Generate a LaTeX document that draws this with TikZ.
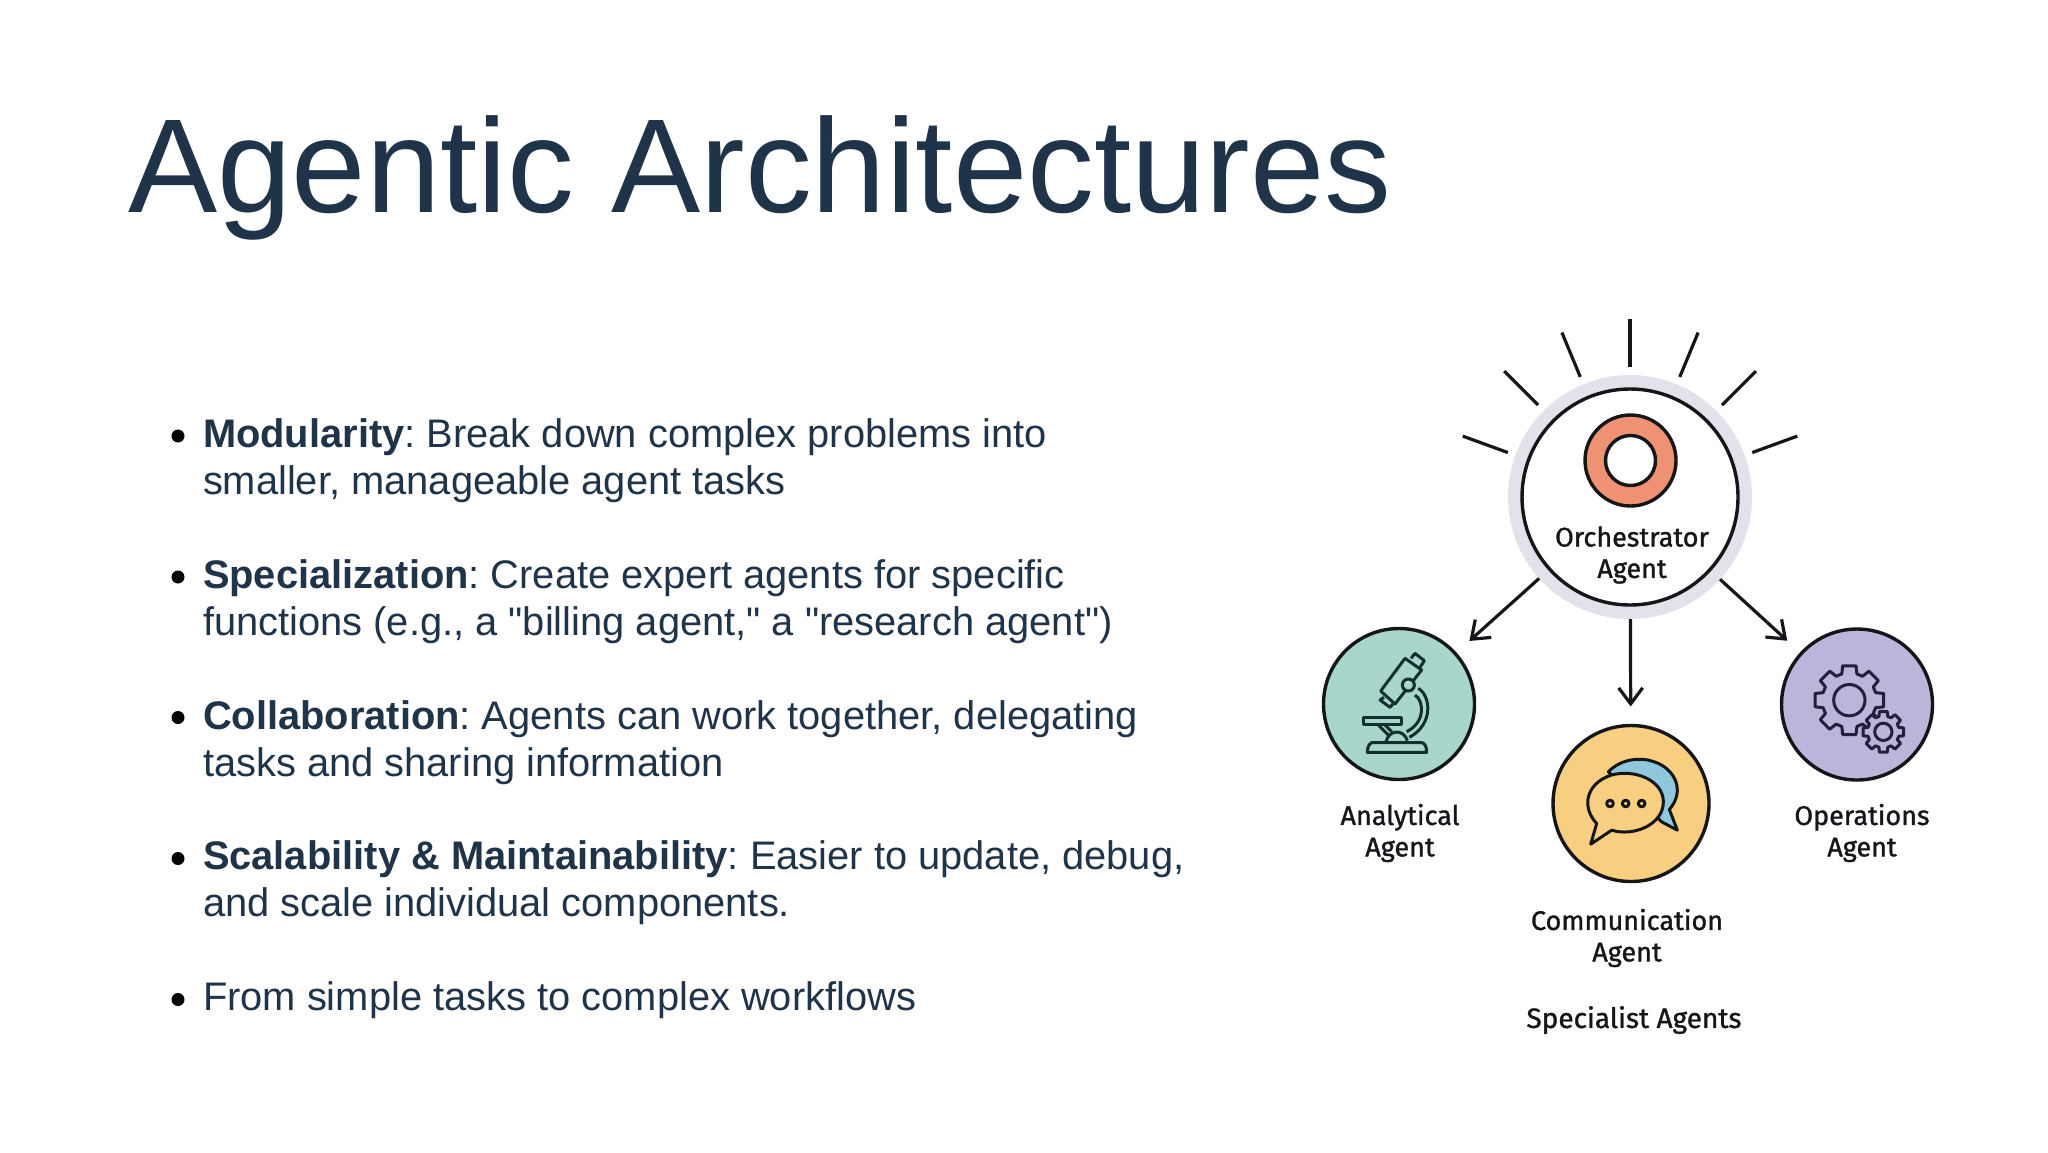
\documentclass[tikz,border=0pt]{standalone}
\usepackage{fontspec}
\usepackage{xcolor}
\newfontfamily\slidefont{Liberation Sans}
\newfontfamily\iconfont{Fira Sans}[FakeBold=1.2]
\usetikzlibrary{arrows.meta,positioning}

\definecolor{slidetext}{HTML}{1F3349}
\definecolor{ringgray}{HTML}{E2E2EA}
\definecolor{donutorange}{HTML}{EF9273}
\definecolor{tealfill}{HTML}{A9D6CA}
\definecolor{lilacfill}{HTML}{BDB5D9}
\definecolor{sandfill}{HTML}{F8CF80}
\definecolor{bubbleblue}{HTML}{8FC7DC}
\definecolor{inkblack}{HTML}{14161A}
\definecolor{inkteal}{HTML}{12302F}
\definecolor{inkplum}{HTML}{231F3F}

\tikzset{
    bullet/.style={circle, fill=black, minimum size=6.5pt, inner sep=0pt, outer sep=0pt},
    item/.style={anchor=north west, align=left, inner sep=0pt, outer sep=0pt, text=slidetext,
        font=\slidefont\frenchspacing\fontsize{19.93pt}{23.4pt}\selectfont,
        execute at begin node={\rule{0pt}{15pt}}},
    agent/.style={circle, draw=inkblack, line width=1.7pt, inner sep=0pt, outer sep=0pt},
    agentlabel/.style={align=center, inner sep=0pt, text=inkblack,
        font=\iconfont\fontsize{13.5pt}{15.7pt}\selectfont},
    ray/.style={draw=inkblack, line width=1.6pt},
    link/.style={draw=inkblack, line width=1.6pt, -{Straight Barb[length=8pt,width=12pt]}, shorten >=19*0.5pt},
}

% draws one gear around the origin: outer radius, root radius
\newcommand{\gearpath}[2]{
    (90-16:#2) \foreach \ang in {90,135,...,405} {
        -- (\ang-16:#2) -- (\ang-11:#1) -- (\ang+11:#1) -- (\ang+16:#2)
    } -- cycle
}

\begin{document}
\begin{tikzpicture}[x=0.5pt, y=-0.5pt]
    \useasboundingbox (0,0) rectangle (2048,1152);

    % title
    \node[anchor=base west, inner sep=0pt, text=slidetext, font=\slidefont\fontsize{66.85pt}{70pt}\selectfont] (title) at (128,212) {Agentic Architectures};

    % bullet list
    \node[bullet] (dotone) at (178,436) {};
    \node[item] (modularity) at (203,419) {\textbf{Modularity}: Break down complex problems into\\smaller, manageable agent tasks};
    \node[bullet] (dottwo) at (178,577) {};
    \node[item] (specialization) at (203,560) {\textbf{Specialization}: Create expert agents for specific\\functions (e.g., a "billing agent," a "research agent")};
    \node[bullet] (dotthree) at (178,717.5) {};
    \node[item] (collaboration) at (203,700.5) {\textbf{Collaboration}: Agents can work together, delegating\\tasks and sharing information};
    \node[bullet] (dotfour) at (178,858.5) {};
    \node[item] (scalability) at (203,840.5) {\textbf{Scalability \& Maintainability}: Easier to update, debug,\\and scale individual components.};
    \node[bullet] (dotfive) at (178,999.5) {};
    \node[item] (workflows) at (203,980) {From simple tasks to complex workflows};

    % orchestrator
    \node[circle, fill=ringgray, minimum size=122pt, inner sep=0pt, outer sep=0pt] (orchestrator) at (1630,497) {};
    \node[agent, fill=white, minimum size=108pt] (orchinner) at (orchestrator.center) {};
    \node[agent, fill=donutorange, minimum size=45.5pt] (donut) at (1630.5,460.5) {};
    \node[agent, fill=white, minimum size=25pt] (donuthole) at (donut.center) {};
    \node[agentlabel] (orchlabel) at (1632,555) {Orchestrator\\Agent};
    \foreach \ang in {20,45,67.5,90,112.5,135,160}
        \draw[ray] ([shift={(-\ang:130)}]orchestrator.center) -- ([shift={(-\ang:178)}]orchestrator.center);

    % specialists
    \node[agent, fill=tealfill, minimum size=75.5pt] (analytical) at (1399,704) {};
    \node[agent, fill=sandfill, minimum size=78pt] (communication) at (1631,803.5) {};
    \node[agent, fill=lilacfill, minimum size=75.5pt] (operations) at (1857,704.5) {};

    \node[agentlabel] (analyticallabel) at (1400,833) {Analytical\\Agent};
    \node[agentlabel] (communicationlabel) at (1627,938) {Communication\\Agent};
    \node[agentlabel] (operationslabel) at (1862,833) {Operations\\Agent};
    \node[agentlabel, font=\iconfont\fontsize{14pt}{15.7pt}\selectfont] (specialists) at (1634,1020) {Specialist Agents};

    \draw[link] (orchestrator) -- (analytical);
    \draw[link] (orchestrator) -- (communication);
    \draw[link] (orchestrator) -- (operations);

    % microscope
    \begin{scope}[shift={(analytical.center)}, scale=1/3, draw=inkteal, line width=1.5pt, line join=round]
        \draw (36,-137) -- (48,-152) -- (76,-130) -- (63,-110);
        \draw (18,-137) -- (68,-102) -- (-12,0) -- (-55,-39) -- cycle;
        \draw (-45,-20) -- (-57,-12) -- (-27,10) -- (-15,-4);
        \draw[fill=tealfill] (28,-57) circle (18);
        \draw (58,-47) .. controls (95,-25) and (105,60) .. (31,100);
        \draw (48,-27) .. controls (75,-10) and (80,55) .. (23,83);
        \draw (-107,39) rectangle (6,61);
        \draw (-62,63) -- (-32,93) (-42,63) -- (-22,83);
        \draw (-39,113) .. controls (-30,75) and (15,75) .. (25,110);
        \draw (-95,145) -- (83,145) .. controls (83,125) and (75,116) .. (68,116) -- (-82,116) .. controls (-90,120) and (-95,130) .. (-95,145) -- cycle;
    \end{scope}

    % chat bubbles
    \begin{scope}[shift={(communication.center)}, scale=1/3, draw=inkblack, line width=1.5pt, line join=round]
        \draw[fill=bubbleblue] (-68,-95) .. controls (-30,-135) and (30,-140) .. (70,-125) .. controls (130,-105) and (165,-40) .. (115,18) -- (139,80) -- (92,55) -- cycle;
        \draw[fill=sandfill] (-103,60) .. controls (-150,10) and (-135,-60) .. (-60,-85) .. controls (10,-105) and (97,-70) .. (97,-5) .. controls (97,65) and (5,100) .. (-58,80) -- (-121,122) -- cycle;
        \draw (-63,0) circle (10);
        \draw (-16,0) circle (10);
        \draw (32,0) circle (10);
    \end{scope}

    % gears
    \begin{scope}[shift={(operations.center)}, scale=1/3, draw=inkplum, line width=1.5pt, line join=round]
        \begin{scope}[shift={(-23,-13)}]
            \draw \gearpath{105}{82};
            \draw (0,0) circle (47);
        \end{scope}
        \begin{scope}[shift={(79,82)}]
            \draw[fill=lilacfill] \gearpath{62}{48};
            \draw (0,0) circle (26);
        \end{scope}
    \end{scope}
\end{tikzpicture}
\end{document}
